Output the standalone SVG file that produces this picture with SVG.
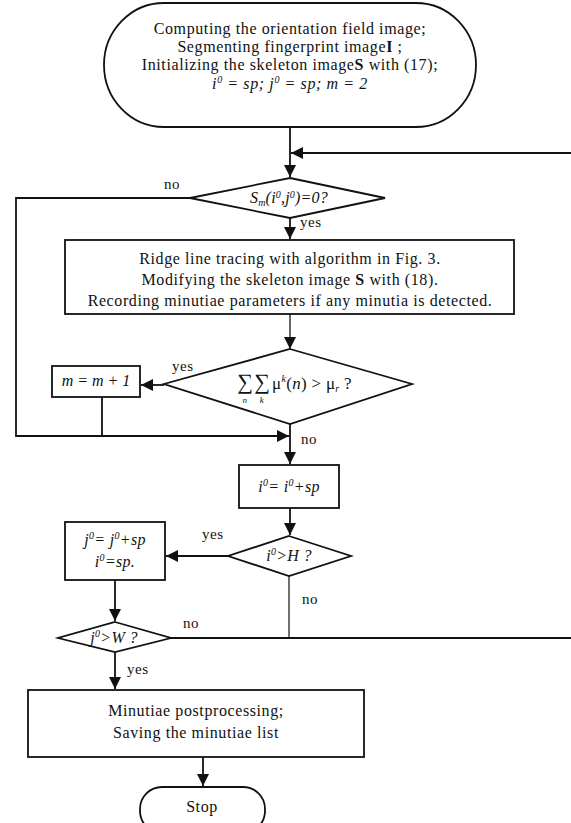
<svg xmlns="http://www.w3.org/2000/svg" width="571" height="823" viewBox="0 0 571 823">
<defs>
<marker id="ah" viewBox="0 0 12 12" refX="12" refY="6" markerWidth="12" markerHeight="12" markerUnits="userSpaceOnUse" orient="auto">
<path d="M0,0 L12,6 L0,12 Z" fill="#111"/>
</marker>
<style>
.s{fill:#fff;stroke:#111;stroke-width:1.8}
.c{fill:none;stroke:#111;stroke-width:1.8}
.t{font-family:"Liberation Serif","Times New Roman",serif;font-size:16px;fill:#111;text-anchor:middle;letter-spacing:0.6px}
.i{font-style:italic}
.l{font-family:"Liberation Serif","Times New Roman",serif;font-size:15px;fill:#111;letter-spacing:0.6px}
.b{font-weight:bold}
.sup{font-size:10px}
</style>
</defs>
<rect width="571" height="823" fill="#fff"/>
<g id="connectors">
<path class="c" d="M290,127 V177" marker-end="url(#ah)"/>
<path class="c" d="M171,638 H573 V153 H291" marker-end="url(#ah)"/>
<path class="c" d="M190,198 H16 V436 H289" marker-end="url(#ah)"/>
<path class="c" d="M290,218 V239" marker-end="url(#ah)"/>
<path class="c" d="M290,314 V349" marker-end="url(#ah)" style="stroke-width:1.3"/>
<path class="c" d="M164,385 H141" marker-end="url(#ah)"/>
<path class="c" d="M102,397 V436"/>
<path class="c" d="M290,424 V464" marker-end="url(#ah)"/>
<path class="c" d="M290,508 V535" marker-end="url(#ah)"/>
<path class="c" d="M228,556 H166" marker-end="url(#ah)"/>
<path class="c" d="M289,576 V638" style="stroke-width:1.2"/>
<path class="c" d="M115,580 V621" marker-end="url(#ah)"/>
<path class="c" d="M115,652 V689" marker-end="url(#ah)"/>
<path class="c" d="M203,757 V786" marker-end="url(#ah)"/>
</g>
<g id="labels">
<text class="l" x="164" y="189">no</text>
<text class="l" x="300" y="227">yes</text>
<text class="l" x="172" y="371">yes</text>
<text class="l" x="301" y="444">no</text>
<text class="l" x="202" y="539">yes</text>
<text class="l" x="302" y="604">no</text>
<text class="l" x="183" y="628">no</text>
<text class="l" x="127" y="674">yes</text>
</g>
<g id="start">
<rect class="s" x="104" y="3" width="372" height="124" rx="60" ry="62"/>
<text class="t" x="290" y="34">Computing the orientation field image;</text>
<text class="t" x="290" y="52">Segmenting fingerprint image<tspan class="b">I</tspan> ;</text>
<text class="t" x="290" y="70">Initializing the skeleton image<tspan class="b">S</tspan> with (17);</text>
<text class="t i" x="290" y="89">i<tspan class="sup" dy="-6">0</tspan><tspan dy="6"> = sp; j</tspan><tspan class="sup" dy="-6">0</tspan><tspan dy="6"> = sp; m = 2</tspan></text>
</g>
<g id="check-skeleton">
<polygon class="s" points="290,178 385,198 290,218 190,198"/>
<text class="t i" x="289" y="203" style="letter-spacing:0.2px">S<tspan class="sup" dy="3">m</tspan><tspan dy="-3">(i</tspan><tspan class="sup" dy="-5">0</tspan><tspan dy="5">,j</tspan><tspan class="sup" dy="-5">0</tspan><tspan dy="5">)=0?</tspan></text>
</g>
<g id="ridge-trace">
<rect class="s" x="65" y="240" width="449" height="74"/>
<text class="t" x="290" y="264">Ridge line tracing with algorithm in Fig. 3.</text>
<text class="t" x="290" y="285">Modifying the skeleton image <tspan class="b">S</tspan> with (18).</text>
<text class="t" x="290" y="306">Recording minutiae parameters if any minutia is detected.</text>
</g>
<g id="check-sum">
<polygon class="s" points="290,349 412,384 290,424 164,384"/>
<text class="t" x="245" y="389" style="font-size:22px;letter-spacing:0">∑</text>
<text class="t" x="262" y="389" style="font-size:22px;letter-spacing:0">∑</text>
<text class="t i" x="245" y="403" style="font-size:9px">n</text>
<text class="t i" x="262" y="403" style="font-size:9px">k</text>
<text class="t" x="272" y="389" style="text-anchor:start;font-size:17px;letter-spacing:0.3px">μ<tspan class="sup i" dy="-7">k</tspan><tspan dy="7">(</tspan><tspan class="i">n</tspan>) &gt; μ<tspan class="sup i" dy="3">r</tspan><tspan dy="-3"> ?</tspan></text>
</g>
<g id="inc-m">
<rect class="s" x="52" y="366" width="88" height="31"/>
<text class="t i" x="96" y="386" style="letter-spacing:0">m = m + 1</text>
</g>
<g id="inc-i">
<rect class="s" x="239" y="465" width="100" height="43"/>
<text class="t i" x="289" y="492" style="letter-spacing:0.3px">i<tspan class="sup" dy="-6">0</tspan><tspan dy="6">= i</tspan><tspan class="sup" dy="-6">0</tspan><tspan dy="6">+sp</tspan></text>
</g>
<g id="check-h">
<polygon class="s" points="289,536 351,556 289,576 228,556"/>
<text class="t i" x="289" y="561" style="letter-spacing:0.3px">i<tspan class="sup" dy="-6">0</tspan><tspan dy="6">&gt;H ?</tspan></text>
</g>
<g id="inc-j">
<rect class="s" x="65" y="522" width="100" height="58"/>
<text class="t i" x="115" y="545" style="letter-spacing:0.3px">j<tspan class="sup" dy="-6">0</tspan><tspan dy="6">= j</tspan><tspan class="sup" dy="-6">0</tspan><tspan dy="6">+sp</tspan></text>
<text class="t i" x="115" y="567" style="letter-spacing:0.3px">i<tspan class="sup" dy="-6">0</tspan><tspan dy="6">=sp.</tspan></text>
</g>
<g id="check-w">
<polygon class="s" points="115,622 171,638 115,652 58,638"/>
<text class="t i" x="114" y="643" style="letter-spacing:0.3px">j<tspan class="sup" dy="-6">0</tspan><tspan dy="6">&gt;W ?</tspan></text>
</g>
<g id="postprocess">
<rect class="s" x="28" y="690" width="336" height="67"/>
<text class="t" x="196" y="716">Minutiae postprocessing;</text>
<text class="t" x="196" y="738">Saving the minutiae list</text>
</g>
<g id="stop">
<rect class="s" x="140" y="787" width="125" height="46" rx="22" ry="22"/>
<text class="t" x="202" y="812">Stop</text>
</g>
</svg>
